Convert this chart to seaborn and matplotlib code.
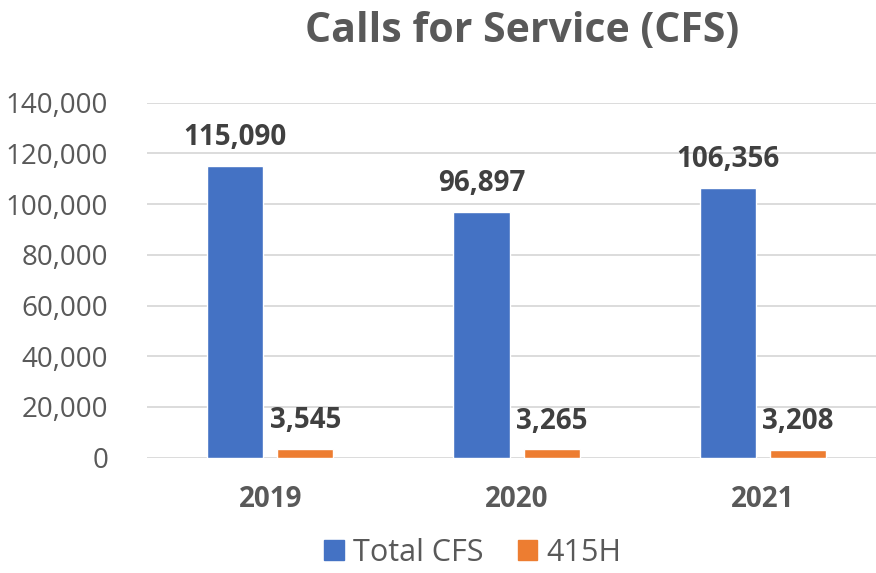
import pandas as pd
import matplotlib.pyplot as plt
import seaborn as sns
from matplotlib.ticker import FuncFormatter

years = ["2019", "2020", "2021"]
total_cfs = [115090, 96897, 106356]
h415 = [3545, 3265, 3208]
series_names = ["Total CFS", "415H"]
colors = ["#4472C4", "#ED7D31"]

df = pd.DataFrame({
    "year": years * 2,
    "series": [series_names[0]] * 3 + [series_names[1]] * 3,
    "calls": total_cfs + h415,
})

sns.set_theme(style="white")
plt.rcParams["font.family"] = ["Open Sans", "DejaVu Sans"]

fig = plt.figure(figsize=(8.76, 5.73), dpi=100)
ax = fig.add_axes([147 / 876, 1 - 457.7 / 573, 1 - 147 / 876, (457.7 - 102.7) / 573])

sns.barplot(data=df, x="year", y="calls", hue="series", order=years,
            hue_order=series_names, palette=colors, width=0.57, gap=0.2,
            saturation=1, ax=ax, legend=False)

ax.set_ylim(0, 140000)
ax.set_xlim(-0.5, 2.458)
ax.set_yticks(range(0, 140001, 20000))
ax.yaxis.set_major_formatter(FuncFormatter(lambda v, p: f"{int(v):,}"))
ax.grid(axis="y", color="#D9D9D9", lw=1.3)
ax.set_axisbelow(True)
for s in ax.spines.values():
    s.set_visible(False)
ax.tick_params(axis="y", length=0, pad=28, labelsize=20, labelcolor="#595959")
ax.tick_params(axis="x", length=0, pad=20, labelsize=20, labelcolor="#595959")
for lbl in ax.get_xticklabels():
    lbl.set_fontweight("bold")
ax.set_xlabel("")
ax.set_ylabel("")

for cont in ax.containers:
    ax.bar_label(cont, labels=[f"{int(v):,}" for v in cont.datavalues],
                 padding=10, fontsize=20, fontweight="bold", color="#404040")

handles = [plt.Rectangle((0, 0), 1, 1, color=c) for c in colors]
fig.legend(handles, series_names, loc="center", bbox_to_anchor=(473 / 876, 0.035),
           ncol=2, frameon=False, fontsize=22, labelcolor="#595959",
           handlelength=0.65, handleheight=0.65, handletextpad=0.3, columnspacing=1.1,
           borderpad=0)

fig.text(522 / 876, 1 - 32 / 573, "Calls for Service (CFS)", ha="center", va="center",
         fontsize=29.5, fontweight="bold", color="#595959")

fig.savefig("out.png", dpi=100)
